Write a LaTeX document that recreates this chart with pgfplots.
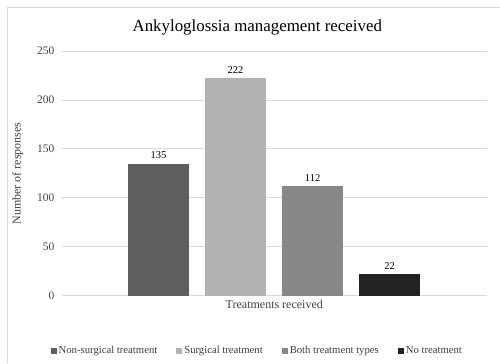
\documentclass[border=0pt]{standalone}
\usepackage{pgfplots}
\pgfplotsset{compat=1.18}
\usepackage{fontspec}
\setmainfont{Liberation Serif}
\definecolor{cA}{HTML}{5E5E5E}
\definecolor{cB}{HTML}{B2B2B2}
\definecolor{cC}{HTML}{888888}
\definecolor{cD}{HTML}{232323}
\definecolor{gridc}{HTML}{D9D9D9}
\definecolor{txt}{HTML}{404040}
\begin{document}
\begin{tikzpicture}[x=1pt,y=1pt]
\fill[white] (0,0) rectangle (500,363);
\draw[gridc, line width=0.8pt] (7.5,0) -- (7.5,355.5) -- (500,355.5);
\begin{axis}[
  at={(62pt,67pt)}, anchor=south west,
  scale only axis, width=425pt, height=245pt,
  xmin=-1.255, xmax=4.26, ymin=0, ymax=250,
  ytick={0,50,...,250},
  xtick=\empty,
  axis line style={draw=none},
  ymajorgrids, grid style={gridc, line width=0.8pt},
  major tick length=0pt,
  tick label style={font=\fontsize{11.5}{13}\selectfont, text=txt},
  yticklabel style={xshift=-4pt},
  /pgf/number format/assume math mode=true,
  ybar, bar width=61pt, bar shift=0pt,
  nodes near coords,
  every node near coord/.append style={font=\fontsize{10.5}{12}\selectfont, text=black, yshift=1pt},
  xlabel={Treatments received},
  xlabel style={font=\fontsize{12}{14}\selectfont, text=txt, at={(axis description cs:0.5,0)}, anchor=north, yshift=-1pt},
  ylabel={Number of responses},
  ylabel style={font=\fontsize{12}{14}\selectfont, text=txt, at={(axis description cs:-0.104,0.5)}, anchor=center},
  title={Ankyloglossia management received},
  title style={font=\fontsize{16.9}{20}\selectfont, at={(axis description cs:0.46,1)}, anchor=south, yshift=6pt},
  legend style={at={(0.46,-0.19)}, anchor=north, draw=none, legend columns=4,
    font=\fontsize{10.7}{12}\selectfont, text=txt,
    /tikz/every even column/.append style={column sep=17pt}},
  legend image code/.code={\fill[#1] (0pt,-3pt) rectangle (6pt,3pt);},
]
\addplot[fill=cA, draw=none] coordinates {(0,135)};
\addplot[fill=cB, draw=none] coordinates {(1,222)};
\addplot[fill=cC, draw=none] coordinates {(2,112)};
\addplot[fill=cD, draw=none] coordinates {(3,22)};
\legend{Non-surgical treatment, Surgical treatment, Both treatment types, No treatment}
\end{axis}
\end{tikzpicture}
\end{document}
